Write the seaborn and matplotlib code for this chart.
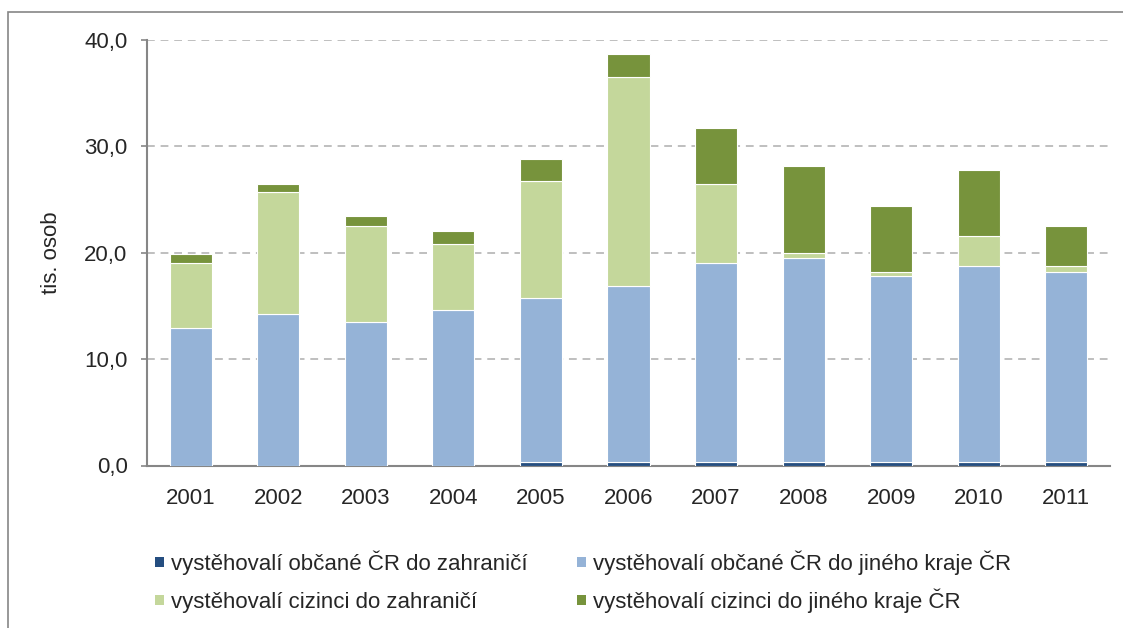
"""
plot.py - vystěhovalí z kraje 2001-2011, stacked bars (seaborn).
"""
import matplotlib
matplotlib.use("Agg")
import matplotlib.pyplot as plt
import matplotlib.patches as mpatches
import numpy as np
import pandas as pd
import seaborn as sns

years = ["2001", "2002", "2003", "2004", "2005", "2006",
         "2007", "2008", "2009", "2010", "2011"]

# tis. osob
cz_abroad  = [0.0, 0.0, 0.0, 0.0, 0.3, 0.3, 0.3, 0.3, 0.3, 0.3, 0.3]
cz_region  = [12.9, 14.2, 13.5, 14.6, 15.4, 16.6, 18.7, 19.2, 17.5, 18.5, 17.9]
for_abroad = [6.1, 11.5, 9.0, 6.2, 11.0, 19.6, 7.5, 0.5, 0.4, 2.8, 0.6]
for_region = [0.9, 0.8, 1.0, 1.2, 2.1, 2.2, 5.2, 8.2, 6.2, 6.2, 3.7]

series_names = [
    "vystěhovalí občané ČR do zahraničí",
    "vystěhovalí občané ČR do jiného kraje ČR",
    "vystěhovalí cizinci do zahraničí",
    "vystěhovalí cizinci do jiného kraje ČR",
]
colors = ["#254E80", "#95B3D7", "#C4D79B", "#77933C"]

GRID = "#BFBFBF"
AXIS = "#868686"

sns.set_style("white")
plt.rcParams["font.family"] = ["Liberation Sans", "DejaVu Sans"]

W, H = 1123, 628
fig = plt.figure(figsize=(W / 100, H / 100), dpi=100)
ax = fig.add_axes([147 / W, 1 - 465.5 / H, (1110 - 147) / W, (465.5 - 40) / H])

df = pd.DataFrame({"rok": years})
bottom = np.zeros(len(years))
for name, vals, col in zip(series_names, [cz_abroad, cz_region, for_abroad, for_region], colors):
    df[name] = vals
    sns.barplot(data=df, x="rok", y=name, color=col, width=0.48,
                bottom=bottom.copy(), edgecolor="white", linewidth=0.8,
                saturation=1, ax=ax, zorder=3)
    bottom += np.array(vals)

ax.set_ylim(0, 40)
ax.set_xlim(-0.5, len(years) - 0.5)
ax.set_yticks([0, 10, 20, 30, 40])
ax.set_yticklabels([f"{v:.1f}".replace(".", ",") for v in [0, 10, 20, 30, 40]])
ax.yaxis.grid(True, color=GRID, linestyle=(0, (4, 3)), linewidth=1.4, zorder=0)
ax.set_axisbelow(True)
ax.set_xlabel("")
ax.set_ylabel("tis. osob", fontsize=16, labelpad=16)

for s in ["top", "right"]:
    ax.spines[s].set_visible(False)
for s in ["left", "bottom"]:
    ax.spines[s].set_color(AXIS)
    ax.spines[s].set_linewidth(1.5)
ax.tick_params(axis="y", which="both", left=True, length=4, width=1.2,
               color=AXIS, labelsize=16, pad=10, direction="out")
ax.tick_params(axis="x", length=0, labelsize=16, pad=16)

# legend, 2 x 2 below the plot (placed by hand so the rows line up)
legend_pos = [(155, 562), (577, 562), (155, 600), (577, 600)]  # px, marker left / centre
for (px, py), name, col in zip(legend_pos, series_names, colors):
    fig.patches.append(mpatches.Rectangle((px / W, 1 - (py + 5) / H), 9 / W, 10 / H,
                                          transform=fig.transFigure,
                                          facecolor=col, edgecolor="none"))
    fig.text((px + 16) / W, 1 - (py + 8) / H, name, fontsize=16,
             va="baseline", ha="left")

# outer chart frame
fig.patches.append(mpatches.Rectangle((8 / W, -0.1), 1.2, 1 - 12 / H + 0.1,
                                      transform=fig.transFigure, fill=False,
                                      edgecolor=AXIS, linewidth=1.2))

fig.savefig("out.png", dpi=100)
